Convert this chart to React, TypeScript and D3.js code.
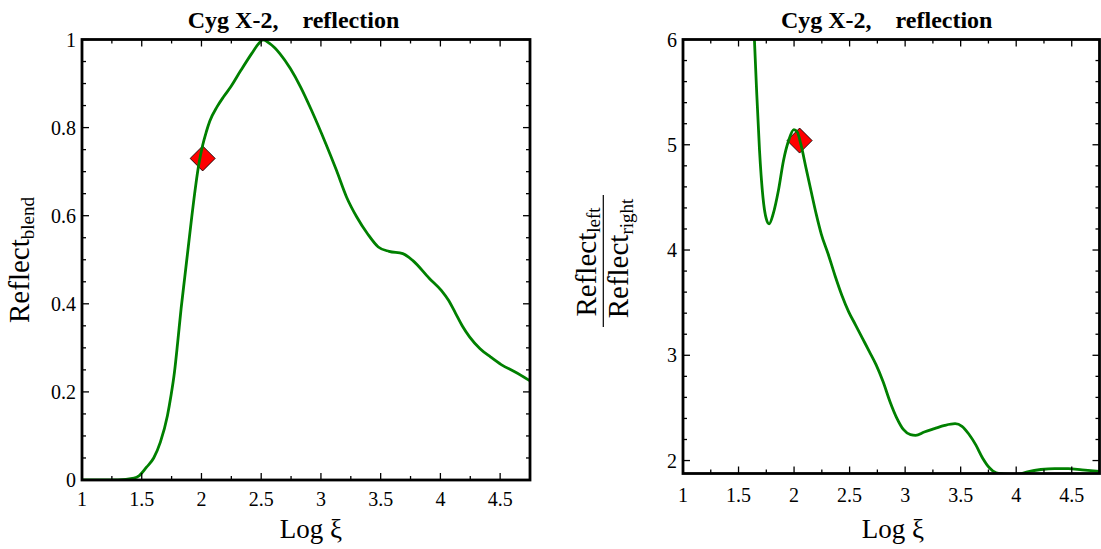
import React from "react";
import * as d3 from "d3";

// ---------- data ----------
const blendLogXi = [1.0, 1.3, 1.435, 1.48, 1.54, 1.6, 1.656, 1.715, 1.744, 1.774, 1.8, 1.83, 1.86, 1.89, 1.92, 1.95, 1.98, 2.01, 2.04, 2.07, 2.13, 2.185, 2.244, 2.33, 2.42, 2.48, 2.515, 2.57, 2.656, 2.744, 2.83, 2.92, 3.04, 3.13, 3.215, 3.3, 3.39, 3.48, 3.57, 3.685, 3.77, 3.906, 4.009, 4.068, 4.126, 4.185, 4.244, 4.332, 4.421, 4.509, 4.626, 4.75];
const blendReflect = [0, 0, 0.004, 0.01, 0.029, 0.05, 0.086, 0.146, 0.19, 0.245, 0.31, 0.39, 0.46, 0.53, 0.6, 0.665, 0.72, 0.76, 0.79, 0.815, 0.847, 0.87, 0.892, 0.93, 0.968, 0.991, 0.999, 0.991, 0.968, 0.934, 0.892, 0.84, 0.764, 0.703, 0.642, 0.597, 0.559, 0.529, 0.519, 0.514, 0.498, 0.458, 0.43, 0.408, 0.379, 0.349, 0.325, 0.298, 0.279, 0.262, 0.245, 0.225];

const ratioLogXi = [1.63, 1.643, 1.664, 1.689, 1.72, 1.75, 1.775, 1.812, 1.859, 1.905, 1.951, 1.998, 2.029, 2.06, 2.106, 2.152, 2.199, 2.245, 2.307, 2.369, 2.43, 2.492, 2.554, 2.616, 2.678, 2.739, 2.801, 2.863, 2.925, 2.986, 3.048, 3.095, 3.172, 3.264, 3.357, 3.45, 3.512, 3.573, 3.635, 3.697, 3.759, 3.82, 3.882, 4.006, 4.1, 4.222, 4.346, 4.469, 4.593, 4.75];
const ratioValue = [6.4, 6.0, 5.486, 4.946, 4.5, 4.295, 4.248, 4.343, 4.565, 4.851, 5.04, 5.143, 5.121, 5.01, 4.787, 4.565, 4.343, 4.152, 3.962, 3.756, 3.571, 3.413, 3.287, 3.161, 3.035, 2.909, 2.751, 2.562, 2.404, 2.293, 2.246, 2.24, 2.271, 2.303, 2.334, 2.35, 2.325, 2.252, 2.151, 2.025, 1.931, 1.883, 1.874, 1.868, 1.893, 1.915, 1.924, 1.924, 1.912, 1.898];

const blendMarker = [2.01, 0.73];
const ratioMarker = [2.05, 5.04];

const xTicks = [1, 1.5, 2, 2.5, 3, 3.5, 4, 4.5];
const xTickLabels = ["1", "1.5", "2", "2.5", "3", "3.5", "4", "4.5"];
const xMinor = [1.25, 1.75, 2.25, 2.75, 3.25, 3.75, 4.25, 4.75];
const blendYTicks = [0, 0.2, 0.4, 0.6, 0.8, 1];
const blendYTickLabels = ["0", "0.2", "0.4", "0.6", "0.8", "1"];
const blendYMinor = [0.05, 0.1, 0.15, 0.25, 0.3, 0.35, 0.45, 0.5, 0.55, 0.65, 0.7, 0.75, 0.85, 0.9, 0.95];
const ratioYTicks = [2, 3, 4, 5, 6];
const ratioYTickLabels = ["2", "3", "4", "5", "6"];
const ratioYMinor = [2.2, 2.4, 2.6, 2.8, 3.2, 3.4, 3.6, 3.8, 4.2, 4.4, 4.6, 4.8, 5.2, 5.4, 5.6, 5.8];

const titleText = "Cyg X-2,";
const titleText2 = "reflection";

const FONT = '"Times New Roman", "Liberation Serif", Times, serif';
const GREEN = "#008000";

type PanelProps = {
  id: string;
  x0: number; x1: number; y0: number; y1: number;
  xDomain: [number, number];
  yDomain: [number, number];
  xs: number[]; ys: number[];
  marker: number[];
  yTicks: number[]; yTickLabels: string[]; yMinor: number[];
  titleX: number;
  xTitleX: number;
  xLabelDy: number;
};

function Panel(p: PanelProps) {
  const x = d3.scaleLinear().domain(p.xDomain).range([p.x0, p.x1]);
  const y = d3.scaleLinear().domain(p.yDomain).range([p.y1, p.y0]);
  const pts = p.xs.map((v, i) => [v, p.ys[i]] as [number, number]);
  const line = d3.line<[number, number]>().x(d => x(d[0])).y(d => y(d[1])).curve(d3.curveMonotoneX);
  const sym = d3.symbol().type(d3.symbolSquare).size(313)();
  const MAJ = 7, MIN = 4;
  const xMinorIn = xMinor.filter(v => v > p.xDomain[0] && v < p.xDomain[1] - 0.01);
  return (
    <g>
      <defs>
        <clipPath id={p.id}>
          <rect x={p.x0} y={p.y0} width={p.x1 - p.x0} height={p.y1 - p.y0} />
        </clipPath>
      </defs>
      <g clipPath={`url(#${p.id})`}>
        <path
          d={sym as string}
          transform={`translate(${x(p.marker[0])},${y(p.marker[1])}) rotate(45)`}
          fill="#ff0000"
          stroke="#000"
          strokeWidth={0.8}
        />
        <path d={line(pts) as string} fill="none" stroke={GREEN} strokeWidth={2.8} />
      </g>
      <g stroke="#000" strokeWidth={1.3}>
        {xTicks.map((v, i) => (
          <g key={"xt" + i}>
            <line x1={x(v)} x2={x(v)} y1={p.y1} y2={p.y1 - MAJ} />
            <line x1={x(v)} x2={x(v)} y1={p.y0} y2={p.y0 + MAJ} />
          </g>
        ))}
        {xMinorIn.map((v, i) => (
          <g key={"xm" + i}>
            <line x1={x(v)} x2={x(v)} y1={p.y1} y2={p.y1 - MIN} />
            <line x1={x(v)} x2={x(v)} y1={p.y0} y2={p.y0 + MIN} />
          </g>
        ))}
        {p.yTicks.map((v, i) => (
          <g key={"yt" + i}>
            <line x1={p.x0} x2={p.x0 + MAJ} y1={y(v)} y2={y(v)} />
            <line x1={p.x1} x2={p.x1 - MAJ} y1={y(v)} y2={y(v)} />
          </g>
        ))}
        {p.yMinor.map((v, i) => (
          <g key={"ym" + i}>
            <line x1={p.x0} x2={p.x0 + MIN} y1={y(v)} y2={y(v)} />
            <line x1={p.x1} x2={p.x1 - MIN} y1={y(v)} y2={y(v)} />
          </g>
        ))}
      </g>
      <rect x={p.x0} y={p.y0} width={p.x1 - p.x0} height={p.y1 - p.y0} fill="none" stroke="#000" strokeWidth={2.8} />
      <g fontFamily={FONT} fontSize={20} fill="#000">
        {xTicks.map((v, i) => (
          <text key={"xl" + i} x={x(v)} y={p.y1 + p.xLabelDy} textAnchor="middle">{xTickLabels[i]}</text>
        ))}
        {p.yTicks.map((v, i) => (
          <text key={"yl" + i} x={p.x0 - 6} y={y(v) + 7} textAnchor="end">{p.yTickLabels[i]}</text>
        ))}
      </g>
      <text x={p.titleX} y={27.5} textAnchor="middle" fontFamily={FONT} fontWeight="bold" fontSize={24} style={{ whiteSpace: "pre" }}>
        {titleText + "    " + titleText2}
      </text>
      <text x={p.xTitleX} y={538} textAnchor="middle" fontFamily={FONT} fontSize={27}>Log ξ</text>
    </g>
  );
}

export default function App() {
  return (
    <svg width={1101} height={549} style={{ position: "absolute", left: 0, top: 0, background: "#fff" }}>
      <rect x={0} y={0} width={1101} height={549} fill="#fff" />
      <Panel
        id="clipL"
        x0={82} x1={530} y0={39.5} y1={480}
        xDomain={[1, 4.75]} yDomain={[0, 1]}
        xs={blendLogXi} ys={blendReflect}
        marker={blendMarker}
        yTicks={blendYTicks} yTickLabels={blendYTickLabels} yMinor={blendYMinor}
        titleX={293.5} xTitleX={311} xLabelDy={25.5}
      />
      <Panel
        id="clipR"
        x0={683} x1={1099.5} y0={39.5} y1={473.5}
        xDomain={[1, 4.75]} yDomain={[1.877, 6]}
        xs={ratioLogXi} ys={ratioValue}
        marker={ratioMarker}
        yTicks={ratioYTicks} yTickLabels={ratioYTickLabels} yMinor={ratioYMinor}
        titleX={886.7} xTitleX={893} xLabelDy={28}
      />
      <text transform="translate(29,260) rotate(-90)" textAnchor="middle" fontFamily={FONT} fontSize={29}>
        Reflect<tspan fontSize={19} dy={5}>blend</tspan>
      </text>
      <text transform="translate(596,262) rotate(-90)" textAnchor="middle" fontFamily={FONT} fontSize={29}>
        Reflect<tspan fontSize={19} dy={4}>left</tspan>
      </text>
      <line x1={603.3} x2={603.3} y1={195} y2={327} stroke="#000" strokeWidth={1.2} />
      <text transform="translate(627.5,258.5) rotate(-90)" textAnchor="middle" fontFamily={FONT} fontSize={29}>
        Reflect<tspan fontSize={19} dy={5}>right</tspan>
      </text>
    </svg>
  );
}
